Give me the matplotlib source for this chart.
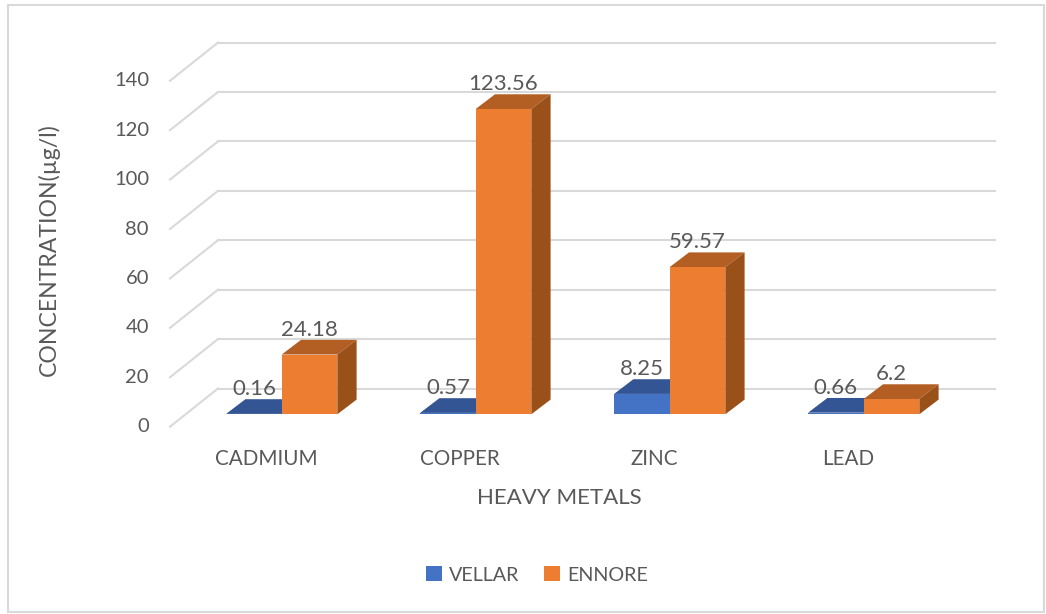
import matplotlib
matplotlib.use('Agg')
import matplotlib.pyplot as plt
from matplotlib.patches import Rectangle

metals = ['CADMIUM', 'COPPER', 'ZINC', 'LEAD']
vellar = [0.16, 0.57, 8.25, 0.66]
ennore = [24.18, 123.56, 59.57, 6.2]
yticks = [0, 20, 40, 60, 80, 100, 120, 140]

plt.rcParams['font.family'] = ['Lato', 'DejaVu Sans']
TEXT = '#595959'
GRID = '#D9D9D9'

W, H = 1046, 614
pxX = 194.0       # pixels per category
pxY = 2.471       # pixels per unit of concentration
x0, y0 = 281.7, 414.3   # pixel of category 0, value 0

fig = plt.figure(figsize=(W / 100, H / 100), dpi=100)
ax = fig.add_axes([0, 0, 1, 1])
ax.set_xlim(-x0 / pxX, (W - x0) / pxX)
ax.set_ylim((y0 - H) / pxY, y0 / pxY)
ax.axis('off')


def ox(px):
    return px / pxX


def oy(px):
    return px / pxY


# chart border
fig.patches.append(Rectangle((8 / W, 1 - 612 / H), (W - 10) / W, 607 / H, transform=fig.transFigure,
                             fill=False, ec=GRID, lw=1.5))

# walls, offsets measured from the plane of the bar fronts
backY = 25.8
frontY = -12.4
for v in yticks:
    ax.plot([ox(170 - x0), ox(218 - x0)], [v + oy(frontY), v + oy(backY)], color=GRID, lw=1.5, zorder=1)
    ax.plot([ox(218 - x0), ox(995 - x0)], [v + oy(backY), v + oy(backY)], color=GRID, lw=1.5, zorder=1)
    ax.text(ox(149 - x0), v + oy(frontY), str(v), ha='right', va='center', color=TEXT, fontsize=14.5)

# bars
barW = ox(55.6)
depX, depY = ox(19.3), oy(14.7)


def bar3d(x, v, front, top, side):
    ax.fill([x, x + barW, x + barW + depX, x + depX], [v, v, v + depY, v + depY], color=top, lw=0, zorder=3)
    ax.fill([x + barW, x + barW + depX, x + barW + depX, x + barW], [0, depY, v + depY, v], color=side, lw=0, zorder=3)
    return ax.bar(x, v, barW, align='edge', color=front, lw=0, zorder=4)


for i in range(len(metals)):
    b1 = bar3d(i - barW, vellar[i], '#4472C4', '#335593', '#2F5597')
    b2 = bar3d(i, ennore[i], '#ED7D31', '#B35E22', '#9A5119')
    ax.text(i - barW / 2, vellar[i] + oy(25), str(vellar[i]), ha='center', va='center', color=TEXT, fontsize=16, zorder=5)
    ax.text(i + barW / 2, ennore[i] + oy(25), str(ennore[i]), ha='center', va='center', color=TEXT, fontsize=16, zorder=5)
    ax.text(i - ox(15.7), oy(y0 - 459), metals[i], ha='center', va='center', color=TEXT, fontsize=14.9)

ax.text(ox(559 - x0), oy(y0 - 498), 'HEAVY METALS', ha='center', va='center', color=TEXT, fontsize=16)
ax.text(ox(49 - x0), oy(y0 - 250), 'CONCENTRATION(µg/l)', rotation=90, ha='center', va='center', color=TEXT, fontsize=16.6)

ax.legend([b1, b2], ['VELLAR', 'ENNORE'], loc='center', bbox_to_anchor=(537 / W, 1 - 575 / H), ncol=2, frameon=False,
          fontsize=14.2, labelcolor=TEXT, handlelength=0.8, handleheight=0.8, handletextpad=0.35, columnspacing=1.25)

fig.savefig('out.png', dpi=100)
